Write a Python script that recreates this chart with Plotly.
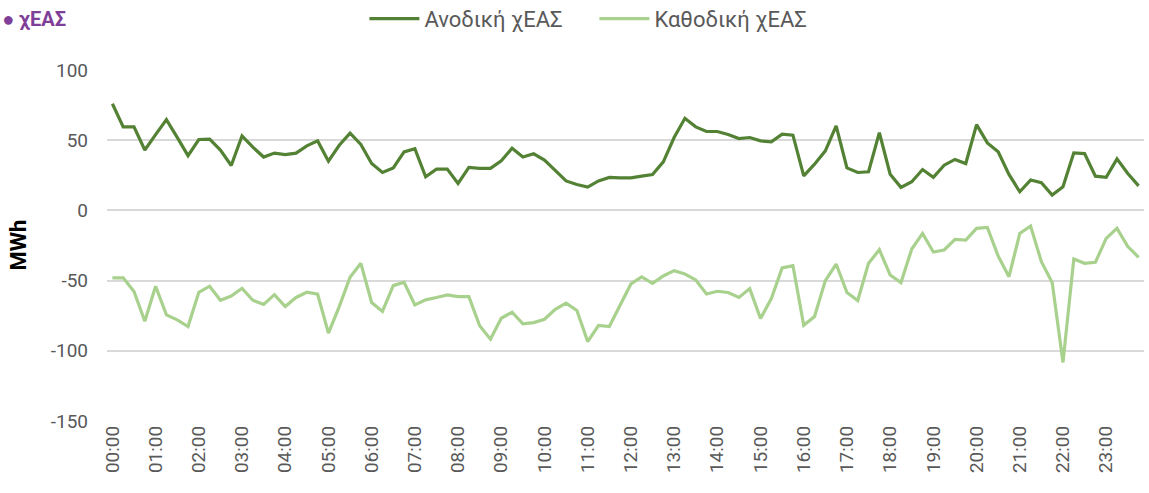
import plotly.graph_objects as go

# 15-minute intervals across the day
times = [f"{h:02d}:{m:02d}" for h in range(24) for m in (0, 15, 30, 45)]
hour_labels = [f"{h:02d}:00" for h in range(24)]

anodiki = [
    76, 59.5, 59.5, 43, 54, 64.7, 52, 39, 50.5, 50.7, 43, 32,
    53, 45, 38, 40.8, 39.8, 40.8, 46, 49.5, 35, 46.4, 55, 47,
    33.4, 27, 30.3, 41.7, 44, 24, 29.4, 29.4, 19.2, 30.6, 29.9, 29.9,
    35.3, 44.3, 38, 40.3, 35.8, 28, 21, 18.5, 16.6, 21, 23.5, 23.2,
    23.2, 24.4, 25.6, 34.6, 51.9, 65.6, 59.5, 56.2, 56.2, 54, 51.2, 51.9,
    49.5, 48.8, 54.3, 53.6, 24.6, 32.9, 42.4, 60.2, 30.3, 27, 27.5, 55.4,
    25.8, 16.4, 20.4, 29.1, 23.5, 32.2, 36.3, 33.4, 61.1, 48.1, 41.7, 25.6,
    13.3, 21.6, 19.7, 10.9, 16.8, 41, 40.5, 24.4, 23.5, 36.7, 26.3, 17.5,
]

kathodiki = [
    -48, -48, -57.8, -79, -54, -74.4, -78, -82.7, -58.3, -54, -64, -61,
    -55.5, -64, -67, -60, -68.5, -62, -58.3, -59.7, -87.4, -68.5, -47.6, -37.7,
    -65.6, -72, -53.6, -51.2, -67.3, -63.7, -62, -60.2, -61.4, -61.4, -82.2, -91.7,
    -76.8, -72.5, -80.8, -79.9, -77.5, -70.4, -66.1, -71.3, -93.4, -82, -82.7, -67.3,
    -52.4, -47.4, -51.9, -46.7, -42.9, -45.3, -49.5, -59.5, -57.6, -58.5, -62, -55.7,
    -77, -62.8, -41, -39.3, -81.8, -75.6, -50, -38.2, -58.5, -64.2, -37.7, -28,
    -46, -51.4, -27.5, -16.4, -29.6, -28.2, -20.6, -21.1, -12.8, -12.1, -32.5, -47.2,
    -16.4, -11.1, -36.5, -51.4, -108.3, -34.6, -37.7, -37, -19.9, -12.8, -25.8, -33.4,
]

y_ticks = [100, 50, 0, -50, -100, -150]

FONT = "Roboto"
GRAY = "#595959"

fig = go.Figure()
fig.add_trace(go.Scatter(
    x=times, y=anodiki, mode="lines", name="Ανοδική χΕΑΣ",
    line=dict(color="#548235", width=3.2),
))
fig.add_trace(go.Scatter(
    x=times, y=kathodiki, mode="lines", name="Καθοδική χΕΑΣ",
    line=dict(color="#A9D18E", width=3.2),
))

fig.update_layout(
    width=1149, height=493,
    margin=dict(l=107, r=5, t=70, b=72, autoexpand=False),
    paper_bgcolor="white", plot_bgcolor="white",
    font=dict(family=FONT, color=GRAY, size=19),
    title=dict(
        text="<b>● χΕΑΣ</b>", x=0.002, xanchor="left",
        yref="container", y=0.962, yanchor="middle",
        font=dict(family=FONT, size=20, color="#7F3F98"),
    ),
    legend=dict(
        orientation="h", x=0.47, xanchor="center",
        yref="container", y=0.962, yanchor="middle",
        font=dict(family=FONT, size=22, color=GRAY),
        itemwidth=50, entrywidth=165, entrywidthmode="pixels",
        bgcolor="rgba(0,0,0,0)",
    ),
    showlegend=True,
)

fig.update_xaxes(
    type="category", categoryorder="array", categoryarray=times,
    range=[-0.5, len(times) - 0.5],
    tickmode="array", tickvals=hour_labels, ticktext=hour_labels,
    tickangle=-90, tickfont=dict(family=FONT, size=19, color=GRAY),
    showgrid=False, showline=False, zeroline=False, ticks="",
    automargin=False,
)
fig.update_yaxes(
    range=[-150, 100], tickmode="array", tickvals=y_ticks,
    ticktext=[str(v) for v in y_ticks],
    tickfont=dict(family=FONT, size=19, color=GRAY),
    showgrid=True, gridcolor="#D9D9D9", gridwidth=1.5,
    zeroline=False, showline=False, ticks="", ticklabelstandoff=18,
    automargin=False,
)

fig.add_annotation(
    text="<b>MWh</b>", textangle=-90, xref="paper", yref="paper",
    x=(18 - 107) / 1037, y=0.5, xanchor="center", yanchor="middle",
    showarrow=False, font=dict(family=FONT, size=22, color="black"),
)

fig.write_html(
    "out.html",
    config={"displayModeBar": False},
    post_script="document.body.style.margin='0';",
)
